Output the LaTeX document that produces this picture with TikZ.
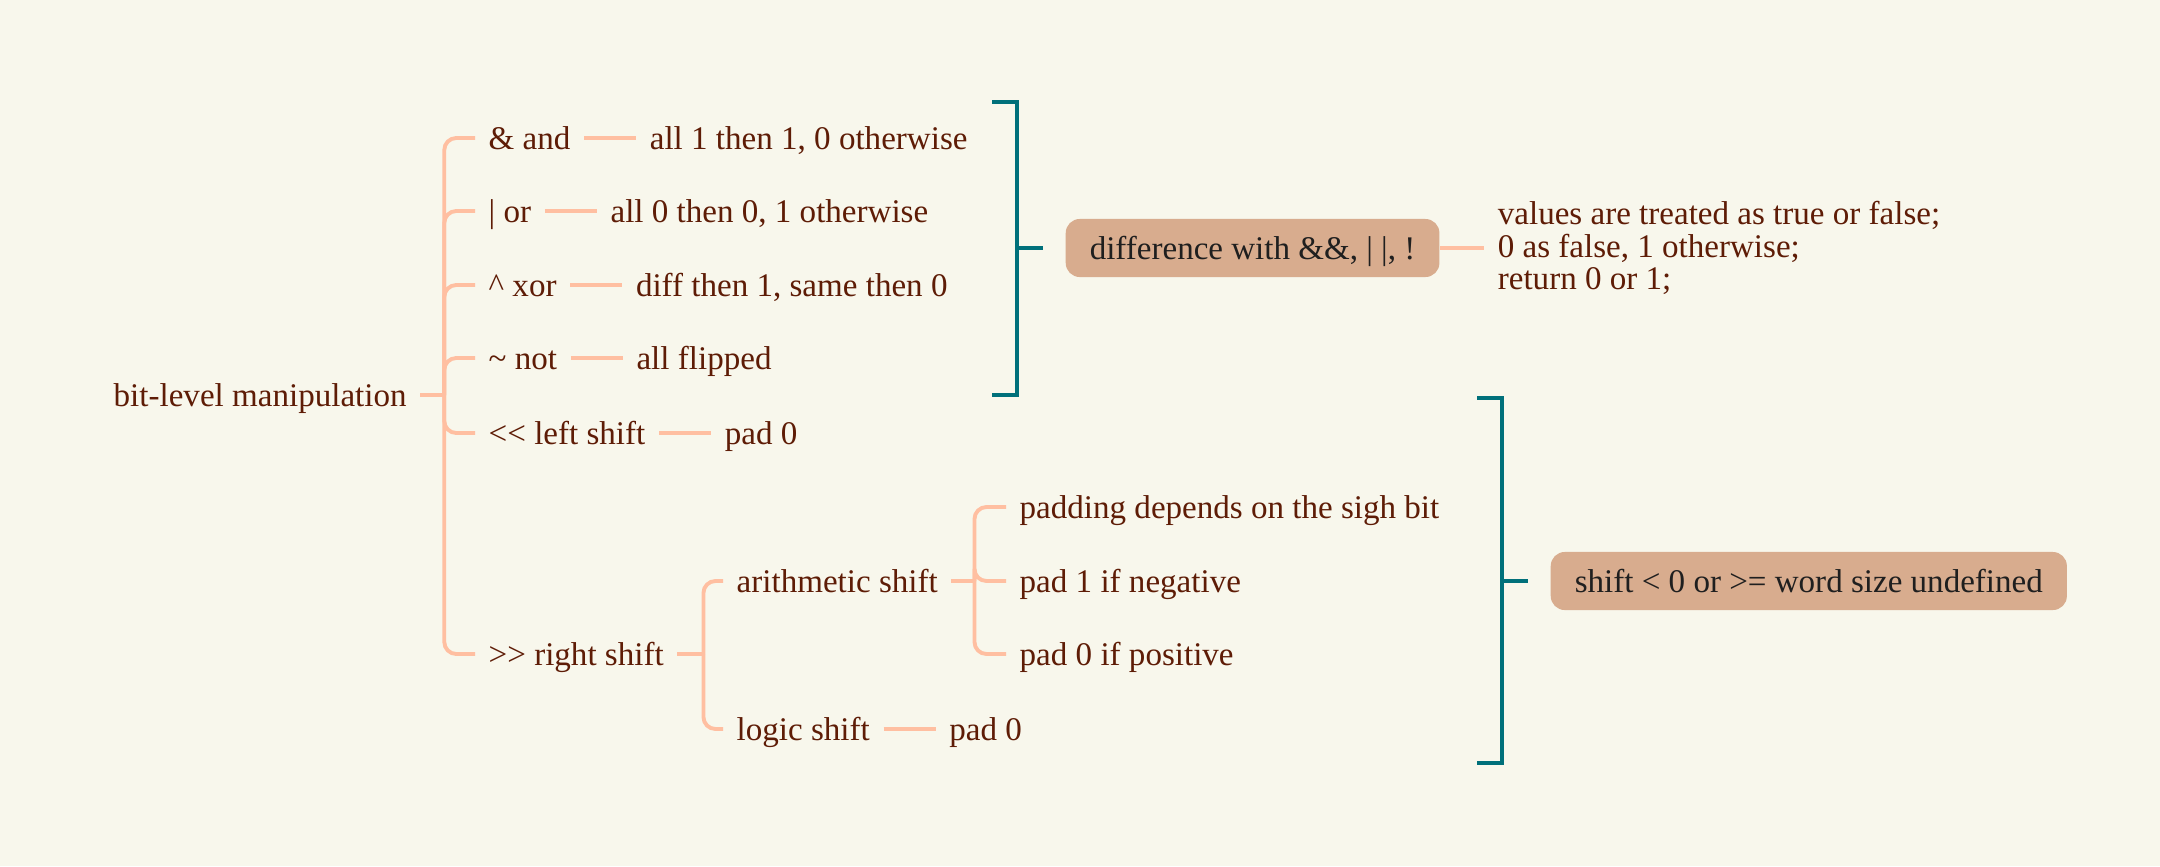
\documentclass[tikz,border=0pt]{standalone}
\usepackage{fontspec}
\setmainfont{Liberation Serif}
\usetikzlibrary{positioning}

\definecolor{paper}{HTML}{F8F7EC}
\definecolor{ink}{HTML}{5E1C06}
\definecolor{twigcol}{HTML}{FFBFA1}
\definecolor{bracketcol}{HTML}{00707A}
\definecolor{boxfill}{HTML}{D8AC8E}

\tikzset{
  topic/.style={anchor=west, inner xsep=0.13cm, inner ysep=0pt,
    text height=8pt, text depth=1.4pt, text=ink,
    font=\fontsize{9.4}{9.3}\selectfont},
  note/.style={inner xsep=0.13cm, inner ysep=0pt, align=left, text=ink,
    font=\fontsize{9.4}{9.3}\selectfont},
  summary/.style={rounded corners=0.14cm, fill=boxfill, inner xsep=0.24cm,
    minimum height=0.58cm, text height=8pt, text depth=1.4pt,
    text=black!88, font=\fontsize{9.4}{9.3}\selectfont},
  twig/.style={draw=twigcol, line width=1.1pt},
  brace/.style={draw=bracketcol, line width=1.4pt},
}

\begin{document}
\begin{tikzpicture}[x=0.01cm, y=-0.01cm]
  \useasboundingbox[fill=paper] (0,0) rectangle (2160,866);

  % root and first level
  \node[topic] (root) at (100,395) {bit-level manipulation};
  \node[topic] (and) at (475,138) {\& and};
  \node[topic] (or)  at (475,211) {| or};
  \node[topic] (xor) at (475,285) {\textasciicircum{} xor};
  \node[topic] (not) at (475,358) {\textasciitilde{} not};
  \node[topic] (lsh) at (475,433) {<{}< left shift};
  \node[topic] (rsh) at (475,654) {>{}> right shift};

  % leaves of the first level
  \node[topic, right=0.52cm of and] (andleaf) {all 1 then 1, 0 otherwise};
  \node[topic, right=0.52cm of or]  (orleaf)  {all 0 then 0, 1 otherwise};
  \node[topic, right=0.52cm of xor] (xorleaf) {diff then 1, same then 0};
  \node[topic, right=0.52cm of not] (notleaf) {all flipped};
  \node[topic, right=0.52cm of lsh] (lshleaf) {pad 0};

  % right shift
  \node[topic] (arith) at (723,581) {arithmetic shift};
  \node[topic] (logic) at (723,729) {logic shift};
  \node[topic, right=0.52cm of logic] (logicleaf) {pad 0};
  \node[topic] (sign) at (1006,507) {padding depends on the sigh bit};
  \node[topic] (neg)  at (1006,581) {pad 1 if negative};
  \node[topic] (pos)  at (1006,654) {pad 0 if positive};

  % tree connectors
  \coordinate (rootj) at ([xshift=0.24cm]root.east);
  \draw[twig] (root.east) -- (rootj);
  \foreach \c in {and,or,xor,not,lsh,rsh}
    \draw[twig, rounded corners=0.12cm] (rootj) |- (\c.west);
  \foreach \a/\b in {and/andleaf,or/orleaf,xor/xorleaf,not/notleaf,lsh/lshleaf,logic/logicleaf}
    \draw[twig] (\a.east) -- (\b.west);

  \coordinate (rshj) at ([xshift=0.26cm]rsh.east);
  \draw[twig] (rsh.east) -- (rshj);
  \foreach \c in {arith,logic}
    \draw[twig, rounded corners=0.12cm] (rshj) |- (\c.west);

  \coordinate (arithj) at ([xshift=0.23cm]arith.east);
  \draw[twig] (arith.east) -- (arithj);
  \foreach \c in {sign,neg,pos}
    \draw[twig, rounded corners=0.12cm] (arithj) |- (\c.west);

  % summary of the bitwise operators
  \coordinate (b1mid) at (1017,248);
  \draw[brace] (992,102) -| (1017,395) -- (992,395);
  \draw[brace] (b1mid) -- ++(26,0);
  \node[summary, right=0.48cm of b1mid] (diff) {difference with \&\&, | |, !};
  \node[note, right=0.44cm of diff] (logical)
    {values are treated as true or false;\\0 as false, 1 otherwise;\\return 0 or 1;};
  \draw[twig] (diff.east) -- (logical.west);

  % summary of the shifts
  \coordinate (b2mid) at (1502,581);
  \draw[brace] (1477,398) -| (1502,763) -- (1477,763);
  \draw[brace] (b2mid) -- ++(26,0);
  \node[summary, right=0.48cm of b2mid] (undef) {shift < 0 or >= word size undefined};
\end{tikzpicture}
\end{document}
